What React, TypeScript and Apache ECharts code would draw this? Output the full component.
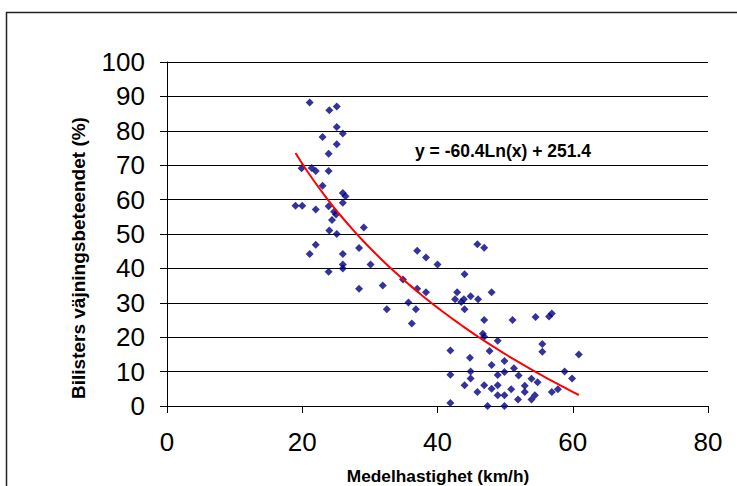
import React, { useEffect, useRef } from "react";
import * as echarts from "echarts";

// Mean speed (km/h) and share of drivers yielding (%)
const speedKmh = [
  21.1, 24.0, 25.1, 25.1, 26.0, 23.0, 25.1, 23.9, 19.9, 21.4,
  22.0, 23.9, 23.0, 26.0, 26.4, 19.0, 20.0, 26.0, 22.0, 23.9,
  24.7, 25.0, 24.4, 24.0, 25.1, 29.1, 22.0, 21.1, 26.0, 28.4,
  26.0, 26.0, 23.9, 30.1, 28.4, 31.9, 32.5, 37.0, 38.3, 40.0,
  34.9, 37.0, 38.3, 35.7, 36.8, 36.2, 45.9, 46.9, 44.0, 42.9,
  42.6, 43.9, 43.5, 44.9, 46.0, 48.0, 44.0, 46.9, 46.7, 46.9,
  48.9, 51.1, 54.5, 56.5, 56.9, 55.5, 55.5, 60.9, 41.9, 44.8,
  47.7, 41.9, 44.9, 44.9, 44.0, 48.0, 49.9, 49.9, 48.9, 51.3,
  52.0, 53.9, 54.8, 58.8, 59.9, 46.9, 45.9, 48.0, 48.9, 48.9,
  49.9, 50.9, 52.9, 52.9, 51.9, 53.9, 54.4, 56.9, 57.8, 41.9,
  47.4, 49.9,
];
const yieldingPct = [
  88.2, 86.0, 87.1, 81.1, 79.2, 78.2, 76.1, 73.3, 69.1, 69.2,
  68.3, 68.3, 64.0, 61.9, 61.0, 58.2, 58.2, 59.1, 57.1, 58.1,
  56.5, 55.7, 54.1, 51.0, 50.0, 51.9, 46.9, 44.2, 44.2, 45.9,
  41.1, 40.0, 39.0, 41.1, 34.1, 35.0, 28.1, 45.1, 43.2, 41.1,
  36.8, 34.1, 33.1, 30.1, 28.1, 24.0, 47.0, 46.0, 38.3, 33.1,
  31.0, 31.0, 30.2, 31.9, 31.0, 33.1, 28.1, 25.0, 21.0, 20.1,
  19.0, 25.0, 25.9, 26.0, 26.9, 18.0, 15.8, 15.0, 16.1, 14.0,
  16.0, 9.1, 10.0, 8.0, 6.0, 11.9, 13.1, 9.9, 9.0, 11.0,
  8.9, 7.9, 6.9, 10.0, 8.0, 6.0, 4.1, 5.0, 6.0, 3.1,
  3.1, 4.9, 5.9, 4.1, 1.9, 1.9, 3.1, 4.1, 4.9, 0.9,
  0.0, 0.0,
];

// Logarithmic trendline shown in the chart: y = a*ln(x) + b
const trendCoefficients = [-60.4, 251.4];
const trendLabel = "y = -60.4Ln(x) + 251.4";

const xAxisTitle = "Medelhastighet (km/h)";
const yAxisTitle = "Bilisters väjningsbeteendet (%)";

const FONT = "'Liberation Sans', Arial, sans-serif";

export default function App() {
  const ref = useRef<HTMLDivElement>(null);

  useEffect(() => {
    if (!ref.current) return;
    const chart = echarts.init(ref.current, undefined, { renderer: "svg" });

    const points = speedKmh.map((x, i) => [x, yieldingPct[i]]);
    const xMin = Math.min(...speedKmh);
    const xMax = Math.max(...speedKmh);
    const trend: number[][] = [];
    const steps = 60;
    for (let i = 0; i <= steps; i++) {
      const x = xMin + ((xMax - xMin) * i) / steps;
      trend.push([x, trendCoefficients[0] * Math.log(x) + trendCoefficients[1]]);
    }

    chart.setOption({
      animation: false,
      backgroundColor: "#ffffff",
      grid: { left: 167, right: 29, top: 62, bottom: 80, containLabel: false },
      xAxis: {
        type: "value",
        min: 0,
        max: 80,
        interval: 20,
        axisLine: { show: true, lineStyle: { color: "#000", width: 1 } },
        axisTick: { show: true, length: 7, lineStyle: { color: "#000" } },
        axisLabel: { color: "#000", fontSize: 26, fontFamily: FONT, margin: 23 },
        splitLine: { show: false },
      },
      yAxis: {
        type: "value",
        min: 0,
        max: 100,
        interval: 10,
        axisLine: { show: true, lineStyle: { color: "#000", width: 1 } },
        axisTick: { show: true, length: 7, lineStyle: { color: "#000" } },
        axisLabel: { color: "#000", fontSize: 26, fontFamily: FONT, margin: 22 },
        splitLine: { show: true, lineStyle: { color: "#000", width: 1 } },
      },
      series: [
        {
          type: "scatter",
          data: points,
          symbol: "diamond",
          symbolSize: 8,
          itemStyle: { color: "#000080" },
          z: 2,
        },
        {
          type: "line",
          data: trend,
          showSymbol: false,
          smooth: false,
          lineStyle: { color: "#ff0000", width: 2 },
          z: 3,
        },
      ],
      graphic: [
        {
          type: "rect",
          shape: { x: 6.5, y: 12.5, width: 900, height: 900 },
          style: { fill: "none", stroke: "#222", lineWidth: 1.5 },
          silent: true,
        },
        {
          type: "text",
          x: 415,
          y: 151,
          style: {
            text: trendLabel,
            fill: "#000",
            font: `bold 17.5px ${FONT}`,
            textAlign: "left",
            textVerticalAlign: "middle",
          },
        },
        {
          type: "text",
          x: 438,
          y: 476,
          style: {
            text: xAxisTitle,
            fill: "#000",
            font: `bold 17.3px ${FONT}`,
            textAlign: "center",
            textVerticalAlign: "middle",
          },
        },
        {
          type: "text",
          x: 78,
          y: 258,
          rotation: Math.PI / 2,
          style: {
            text: yAxisTitle,
            fill: "#000",
            font: `bold 19px ${FONT}`,
            textAlign: "center",
            textVerticalAlign: "middle",
          },
        },
      ],
    });

    return () => chart.dispose();
  }, []);

  return (
    <div
      ref={ref}
      style={{ position: "absolute", left: 0, top: 0, width: 737, height: 486 }}
    />
  );
}
